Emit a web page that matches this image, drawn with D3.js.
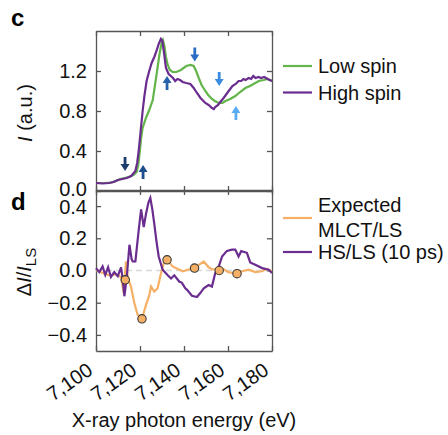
<!DOCTYPE html>
<html><head>
<meta charset="utf-8">
<script src="https://cdn.jsdelivr.net/npm/d3@7"></script>
<style>
  body { margin: 0; background: #fff; }
  svg { font-family: "Liberation Sans", Arial, sans-serif; }
  .frame path, .frame line { stroke: #555; stroke-width: 1.3; }
  .frame text { font-size: 20px; fill: #111; }
</style>
</head><body>
<svg id="chart" width="448" height="435"></svg>
<script>
// panel c: XANES spectra
var lsEnergy = [7100,7104,7107,7109,7111,7113,7115,7117,7118.5,7119.2,7119.7,7120.5,7121.2,7122.7,7124.2,7125.8,7127.3,7128.8,7129.8,7130.4,7131,7131.8,7132.6,7133.6,7134.8,7136.5,7138.6,7141,7143,7144.4,7145.5,7146.7,7148,7149.7,7151,7152.7,7154,7155.8,7157.5,7158.8,7161,7163.3,7165.5,7167.9,7170,7172.4,7174,7176.2,7178,7180];
var lsIntensity = [0.08,0.08,0.085,0.10,0.12,0.13,0.14,0.16,0.19,0.26,0.35,0.53,0.63,0.73,0.81,0.91,1.13,1.36,1.48,1.51,1.46,1.34,1.26,1.21,1.19,1.19,1.21,1.25,1.26,1.25,1.20,1.13,1.06,1.00,0.96,0.92,0.90,0.88,0.88,0.90,0.92,0.95,0.99,1.03,1.05,1.08,1.10,1.11,1.12,1.10];

var hsEnergy = [7100,7103,7106,7108,7110,7112,7114,7116,7117.9,7118.7,7119.4,7120.3,7121.2,7122,7123,7124.2,7125.3,7126.5,7127.5,7128.5,7129.5,7130.2,7130.8,7131.8,7133,7134,7135,7136,7137,7138.2,7139.4,7141,7142.9,7144.4,7145.9,7147.5,7149.7,7151.2,7152.7,7153.6,7154.2,7155.5,7156.5,7158,7160.3,7162,7163.5,7164.8,7166,7167,7168,7169.4,7170.5,7171.5,7172.5,7173.9,7175,7176.5,7178,7180];
var hsIntensity = [0.08,0.075,0.08,0.09,0.11,0.12,0.13,0.15,0.20,0.28,0.40,0.60,0.80,0.95,1.10,1.20,1.28,1.34,1.40,1.47,1.52,1.50,1.40,1.23,1.17,1.15,1.13,1.10,1.12,1.11,1.09,1.08,1.07,1.03,0.98,0.93,0.88,0.86,0.83,0.82,0.84,0.86,0.89,0.93,1.00,1.05,1.07,1.10,1.10,1.12,1.11,1.13,1.12,1.15,1.13,1.14,1.13,1.14,1.12,1.10];

// arrows marking spectral changes (direction +1 up, -1 down)
var arrowEnergy = [7113.2,7121.4,7132.3,7144.9,7156,7163.6];
var arrowValue = [0.27,0.19,1.08,1.365,1.12,0.78];
var arrowDir = [-1,1,1,-1,-1,1];
var arrowColors = ["#1c3c6b","#1f4d8c","#2862ab","#2b6dc4","#3a8ce2","#5aacf2"];

// panel d: difference spectra
var hsDiffEnergy = [7100,7101.5,7103,7104.2,7105.5,7106.8,7108.3,7109.9,7111.4,7112.2,7112.9,7114,7115.2,7116.2,7116.7,7117.9,7119.4,7120.5,7121.7,7122.7,7123.8,7124.7,7125.6,7126.5,7127.5,7128.5,7130.3,7132.6,7134.1,7135.6,7137.9,7139,7140.6,7141.4,7143.6,7145.9,7147.4,7149,7151.2,7152.7,7154.2,7155.8,7157.3,7159.5,7161.8,7163.3,7164.8,7166,7168.6,7170.1,7172.4,7175.5,7178.5,7180];
var hsDiff = [0.015,-0.01,0.025,-0.027,0.02,-0.04,-0.01,-0.035,0.02,-0.06,-0.16,-0.04,0.16,0.07,0.056,0.056,0.25,0.38,0.27,0.35,0.42,0.45,0.38,0.29,0.18,0.087,0.005,-0.03,-0.05,-0.03,-0.07,-0.075,-0.11,-0.12,-0.157,-0.165,-0.14,-0.11,-0.09,-0.1,-0.016,0.025,0.087,0.122,0.13,0.13,0.087,0.12,0.11,0.05,0.035,0.015,0.005,-0.016];

var mlctEnergy = [7100,7103,7106,7109.1,7111.4,7112.6,7113.6,7114.4,7115.9,7117.4,7118.9,7120.9,7122.7,7124.2,7125,7126.5,7128,7129.5,7131,7132.3,7134.8,7137.9,7139.5,7141.7,7144.8,7146.7,7149,7151.2,7152.7,7156,7157.8,7160.1,7164.1,7166.4,7169.4,7172.4,7175.5,7177.7,7180];
var mlctDiff = [0.005,-0.015,-0.03,-0.025,-0.04,-0.14,0.056,-0.04,-0.10,-0.20,-0.275,-0.30,-0.215,-0.155,-0.10,-0.13,-0.11,-0.02,0.056,0.066,0.025,0.005,-0.005,0.005,0.015,0.035,0.056,0.02,0.008,0.004,0.01,-0.01,-0.02,-0.005,0.005,-0.01,-0.005,0.01,-0.005];

var markerEnergy = [7113.3,7120.9,7132.3,7144.8,7156,7164.1];
var markerDiff = [-0.058,-0.30,0.066,0.015,0.0,-0.02];

var xTicks = [7100,7120,7140,7160,7180];
var cTicks = [0,0.4,0.8,1.2];
var dTicks = [-0.4,-0.2,0,0.2,0.4];

var green = "#63b44a", purple = "#6a2c8f", orange = "#f5b066";

var left = 96, right = 272;
var svg = d3.select("#chart");

var x = d3.scaleLinear().domain([7100,7180]).range([left,right]);
var yc = d3.scaleLinear().domain([0,1.6]).range([191,31]);
var yd = d3.scaleLinear().domain([-0.5,0.5]).range([351,190]);

var fmt = d3.format(".1f");
var minusFmt = function(d) { return fmt(d).replace("-", "\u2212"); };

function frame(y, ticks, labelFmt) {
  var g = svg.append("g").attr("class","frame");
  var top = y.range()[1], bottom = y.range()[0];
  g.append("g").attr("class","yleft").attr("transform","translate(" + left + ",0)")
    .call(d3.axisLeft(y).tickValues(ticks).tickSize(-5).tickSizeOuter(0).tickPadding(9).tickFormat(labelFmt));
  g.append("g").attr("transform","translate(" + right + ",0)")
    .call(d3.axisRight(y).tickValues(ticks).tickSize(-5).tickSizeOuter(0).tickFormat(""));
  g.append("g").attr("transform","translate(0," + top + ")")
    .call(d3.axisTop(x).tickValues(xTicks).tickSize(-5).tickSizeOuter(0).tickFormat(""));
  g.append("g").attr("transform","translate(0," + bottom + ")")
    .call(d3.axisBottom(x).tickValues(xTicks).tickSize(-5).tickSizeOuter(0).tickFormat(""));
  g.selectAll(".domain").attr("fill","none");
  return g;
}

var fc = frame(yc, cTicks, fmt);
var fd = frame(yd, dTicks, minusFmt);
// the two labels at the shared border sit a little apart, as in the figure
fc.selectAll(".yleft .tick text").filter(function(d){ return d === 0; }).attr("y", -2);
fd.selectAll(".yleft .tick text").filter(function(d){ return d === 0.4; }).attr("y", 1);

// zero reference in panel d
svg.append("line")
  .attr("x1", x(7100)).attr("x2", x(7180))
  .attr("y1", yd(0)).attr("y2", yd(0))
  .attr("stroke","#d8d8d8").attr("stroke-width",1.5).attr("stroke-dasharray","6,4");

var lineC = d3.line().x(function(d){ return x(d[0]); }).y(function(d){ return yc(d[1]); });
var lineD = d3.line().x(function(d){ return x(d[0]); }).y(function(d){ return yd(d[1]); });

svg.append("path").datum(d3.zip(lsEnergy, lsIntensity))
  .attr("d", lineC).attr("fill","none").attr("stroke",green).attr("stroke-width",2.2);
svg.append("path").datum(d3.zip(hsEnergy, hsIntensity))
  .attr("d", lineC).attr("fill","none").attr("stroke",purple).attr("stroke-width",2.2);

svg.append("path").datum(d3.zip(mlctEnergy, mlctDiff))
  .attr("d", lineD).attr("fill","none").attr("stroke",orange).attr("stroke-width",2.2);
svg.append("path").datum(d3.zip(hsDiffEnergy, hsDiff))
  .attr("d", lineD).attr("fill","none").attr("stroke",purple).attr("stroke-width",2.2);

svg.selectAll("circle.marker").data(d3.zip(markerEnergy, markerDiff)).enter()
  .append("circle").attr("class","marker")
  .attr("cx", function(d){ return x(d[0]); })
  .attr("cy", function(d){ return yd(d[1]); })
  .attr("r", 4.2)
  .attr("fill", orange).attr("stroke","#3a3a3a").attr("stroke-width",1.1);

// arrows
svg.selectAll("path.arrow").data(d3.range(arrowEnergy.length)).enter()
  .append("path").attr("class","arrow")
  .attr("transform", function(i){
    return "translate(" + x(arrowEnergy[i]) + "," + yc(arrowValue[i]) + ") scale(1," + (-arrowDir[i]) + ")";
  })
  .attr("d","M-1.4,-7 L1.4,-7 L1.4,0 L4.5,0 L0,7 L-4.5,0 L-1.4,0 Z")
  .attr("fill", function(i){ return arrowColors[i]; });

// x tick labels (rotated)
svg.selectAll("text.xtick").data(xTicks).enter()
  .append("text").attr("class","xtick")
  .attr("transform", function(d){ return "translate(" + (x(d) - 2) + ",373) rotate(-35)"; })
  .attr("text-anchor","end")
  .attr("font-size",20).attr("fill","#111")
  .text(function(d){ return d3.format(",")(d); });

svg.append("text").attr("x",(left+right)/2).attr("y",427)
  .attr("text-anchor","middle").attr("font-size",20).attr("fill","#111")
  .text("X-ray photon energy (eV)");

// y titles
var yt1 = svg.append("text").attr("transform","translate(32,113) rotate(-90)")
  .attr("text-anchor","middle").attr("font-size",20).attr("fill","#111");
yt1.append("tspan").attr("font-style","italic").text("I");
yt1.append("tspan").text(" (a.u.)");

var yt2 = svg.append("text").attr("transform","translate(31,272) rotate(-90)")
  .attr("text-anchor","middle").attr("font-size",20).attr("fill","#111");
yt2.append("tspan").text("\u0394");
yt2.append("tspan").attr("font-style","italic").text("I");
yt2.append("tspan").text("/");
yt2.append("tspan").attr("font-style","italic").text("I");
yt2.append("tspan").attr("font-size",15).attr("dy",5).text("LS");

// panel letters
svg.append("text").attr("x",11).attr("y",26).attr("font-size",24).attr("font-weight","bold").text("c");
svg.append("text").attr("x",11).attr("y",210).attr("font-size",24).attr("font-weight","bold").text("d");

// legends
var legendC = [["Low spin", green, 66], ["High spin", purple, 92.5]];
legendC.forEach(function(l){
  svg.append("line").attr("x1",283).attr("x2",312).attr("y1",l[2]).attr("y2",l[2])
    .attr("stroke",l[1]).attr("stroke-width",2.2);
  svg.append("text").attr("x",318).attr("y",l[2]+7).attr("font-size",20).attr("fill","#111").text(l[0]);
});

svg.append("line").attr("x1",283).attr("x2",312).attr("y1",218).attr("y2",218)
  .attr("stroke",orange).attr("stroke-width",2.2);
svg.append("text").attr("x",318).attr("y",212).attr("font-size",20).attr("fill","#111").text("Expected");
svg.append("text").attr("x",318).attr("y",237).attr("font-size",20).attr("fill","#111").text("MLCT/LS");
svg.append("line").attr("x1",283).attr("x2",312).attr("y1",252).attr("y2",252)
  .attr("stroke",purple).attr("stroke-width",2.2);
svg.append("text").attr("x",318).attr("y",259).attr("font-size",20).attr("fill","#111").text("HS/LS (10 ps)");
</script>
</body></html>
